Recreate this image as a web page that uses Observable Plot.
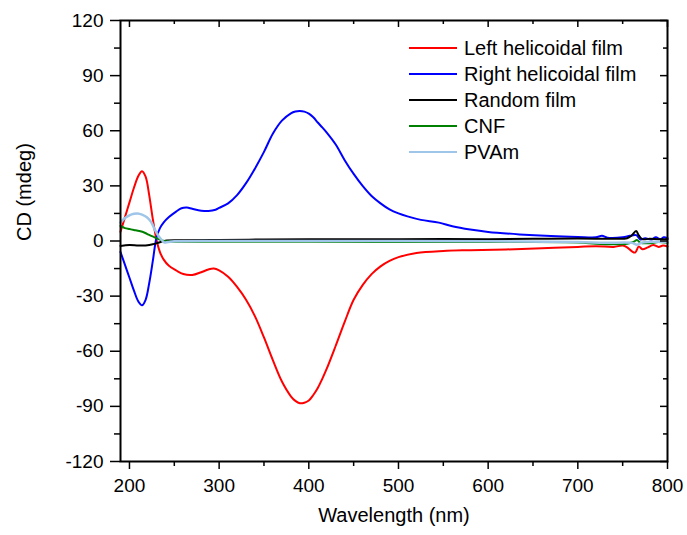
<!DOCTYPE html>
<html><head><meta charset="utf-8">
<script src="https://cdn.jsdelivr.net/npm/d3@7"></script>
<script src="https://cdn.jsdelivr.net/npm/@observablehq/plot@0.6"></script>
<style>
body{margin:0;background:#fff;}
#wrap{position:relative;width:687px;height:535px;font-family:Arial,"Liberation Sans",sans-serif;color:#000;}
#legend{position:absolute;left:409px;top:35px;}
.row{display:flex;align-items:center;height:26px;font-size:20px;white-space:nowrap;}
.sw{width:48px;height:2px;margin-right:7px;}
</style></head><body><div id="wrap"><div id="legend"></div></div>
<script>
// ---- data (wavelength nm, CD mdeg) ----
const seriesNames = ["Left helicoidal film", "Right helicoidal film", "Random film", "CNF", "PVAm"];
const seriesColors = ["#ff0000", "#0000ff", "#000000", "#008000", "#9fc5e8"];

const leftFilm = [[190,5],[195,13],[200,21],[205,29],[210,35.5],[214,38],[218,35],[222,25],[226,12],[230,1],[234,-6],[238,-10],[244,-13.5],[252,-16],[260,-18],[270,-18.5],[280,-17],[288,-15.5],[294,-15],[300,-16],[310,-19.5],[320,-25],[330,-32],[340,-41],[350,-52.5],[360,-65],[370,-76.5],[380,-84.5],[385,-87],[390,-88.3],[395,-88],[400,-86.8],[405,-83.8],[410,-80],[415,-75],[420,-69.5],[430,-57],[440,-44],[450,-32],[460,-24],[470,-18],[480,-13.8],[490,-10.8],[500,-8.8],[520,-6.5],[550,-5.4],[580,-5],[620,-4.6],[660,-4],[700,-3.2],[720,-2.8],[740,-3.2],[750,-2.5],[755,-3.5],[760,-5.5],[764,-6.3],[768,-3],[772,-4.5],[778,-3.5],[784,-2.2],[790,-3.2],[795,-2.5],[800,-3]];

const rightFilm = [[190,-6],[195,-13],[200,-20],[205,-27],[210,-33],[214,-35],[218,-32],[222,-23],[226,-11],[230,1.5],[234,7],[238,10],[244,13],[252,16],[258,17.8],[264,18.2],[270,17.5],[280,16.5],[288,16.3],[296,17],[300,18],[310,20.5],[320,25],[330,31.5],[340,39.5],[350,48.5],[360,58.5],[370,65.5],[380,69.5],[385,70.5],[390,70.8],[395,70.4],[400,69.3],[405,67.3],[410,64.5],[415,61.8],[420,59],[430,52.5],[440,44],[450,36.5],[460,30],[470,24.5],[480,20.5],[490,17.2],[500,15],[510,13.4],[525,11.5],[545,10],[560,8],[580,6.2],[600,4.9],[635,3.6],[670,2.7],[700,2.2],[720,2],[727,2.8],[733,1.8],[750,2],[758,2.8],[765,3.2],[770,0.8],[775,1.5],[782,0.8],[787,2],[792,1],[796,2],[800,1.5]];

const randomFilm = [[190,-2.7],[200,-2.2],[210,-2.5],[218,-2.4],[226,-1.8],[233,-0.8],[240,0.2],[260,0.4],[300,0.6],[350,0.8],[400,0.9],[450,0.9],[500,1],[550,1.1],[600,1],[650,1.2],[700,1.4],[740,1.2],[755,1.5],[760,3],[765,5.4],[768,3],[772,1],[780,1.2],[790,1],[800,1]];

const cnf = [[190,8.2],[195,7],[200,6.5],[205,6],[211,5.4],[217,4.5],[222,3.3],[228,2],[233,0.9],[239,0],[245,-0.3],[300,-0.4],[400,-0.4],[500,-0.5],[600,-0.6],[700,-0.8],[720,-1.5],[740,-1.8],[755,-1.5],[762,-0.5],[766,0.5],[770,-1],[780,-1.2],[790,-0.6],[800,-1]];

const pvam = [[190,10],[195,12.5],[200,14],[205,14.8],[209,15],[214,14.4],[219,13],[224,10.5],[228,6.5],[232,3],[236,0.5],[239,-0.8],[243,-0.6],[250,-0.2],[300,0],[400,0],[500,0],[600,-0.2],[700,-0.5],[730,-1],[760,-1],[766,-2],[772,-0.8],[800,-0.5]];

const xMajorTicks = [200, 300, 400, 500, 600, 700, 800];
const xMinorTicks = [250, 350, 450, 550, 650, 750];
const yMajorTicks = [-120, -90, -60, -30, 0, 30, 60, 90, 120];
const yMinorTicks = [-105, -75, -45, -15, 15, 45, 75, 105];
const xTitle = "Wavelength (nm)";
const yTitle = "CD (mdeg)";

// ---- layout ----
const W = 687, H = 535, mL = 120, mR = 20, mT = 20, mB = 74;
const innerW = W - mL - mR, innerH = H - mT - mB;
const font = "Arial, 'Liberation Sans', sans-serif";
const lineWidths = [2, 2, 2, 2, 2.5];

const allSeries = [leftFilm, rightFilm, randomFilm, cnf, pvam];
const lineMarks = allSeries.map((s, i) =>
  Plot.line(s.map(([nm, cd]) => ({name: seriesNames[i], nm, cd})),
    {x: "nm", y: "cd", stroke: "name", strokeWidth: lineWidths[i], curve: "catmull-rom"}));

const chart = Plot.plot({
  width: W, height: H,
  marginLeft: mL, marginRight: mR, marginTop: mT, marginBottom: mB,
  style: {fontFamily: font, fontSize: "19px", color: "#000", background: "#fff"},
  x: {domain: [190, 800]},
  y: {domain: [-120, 120]},
  color: {domain: seriesNames, range: seriesColors},
  marks: [
    ...lineMarks,
    // bottom axis (outward ticks)
    Plot.axisX(xMajorTicks, {anchor: "bottom", tickSize: 8, tickPadding: 9, strokeWidth: 1.5, tickFormat: d => String(d), label: null, fontSize: 19}),
    Plot.axisX(xMinorTicks, {anchor: "bottom", tickSize: 5, strokeWidth: 1.5, tickFormat: () => "", label: null}),
    // left axis (outward ticks)
    Plot.axisY(yMajorTicks, {anchor: "left", tickSize: 10, tickPadding: 7, strokeWidth: 1.5, tickFormat: d => String(d), label: null, fontSize: 19}),
    Plot.axisY(yMinorTicks, {anchor: "left", tickSize: 6, strokeWidth: 1.5, tickFormat: () => "", label: null}),
    // top inward ticks
    Plot.tickX(xMajorTicks, {x: d => d, insetBottom: innerH - 7, stroke: "#000", strokeWidth: 1.5}),
    Plot.tickX(xMinorTicks, {x: d => d, insetBottom: innerH - 4, stroke: "#000", strokeWidth: 1.5}),
    // right inward ticks
    Plot.tickY(yMajorTicks, {y: d => d, insetLeft: innerW - 7, stroke: "#000", strokeWidth: 1.5}),
    Plot.tickY(yMinorTicks, {y: d => d, insetLeft: innerW - 4, stroke: "#000", strokeWidth: 1.5}),
    Plot.frame({stroke: "#000", strokeWidth: 2}),
    // axis titles
    Plot.text([xTitle], {frameAnchor: "bottom", text: d => d, dy: 60, fontSize: 20, fill: "#000"}),
    Plot.text([yTitle], {frameAnchor: "left", text: d => d, dx: -96, rotate: -90, fontSize: 20, fill: "#000"})
  ]
});
document.getElementById("wrap").prepend(chart);

// legend
const legend = document.getElementById("legend");
seriesNames.forEach((n, i) => {
  const row = document.createElement("div");
  row.className = "row";
  const sw = document.createElement("div");
  sw.className = "sw";
  sw.style.background = seriesColors[i];
  const t = document.createElement("span");
  t.textContent = n;
  row.append(sw, t);
  legend.append(row);
});
</script></body></html>
